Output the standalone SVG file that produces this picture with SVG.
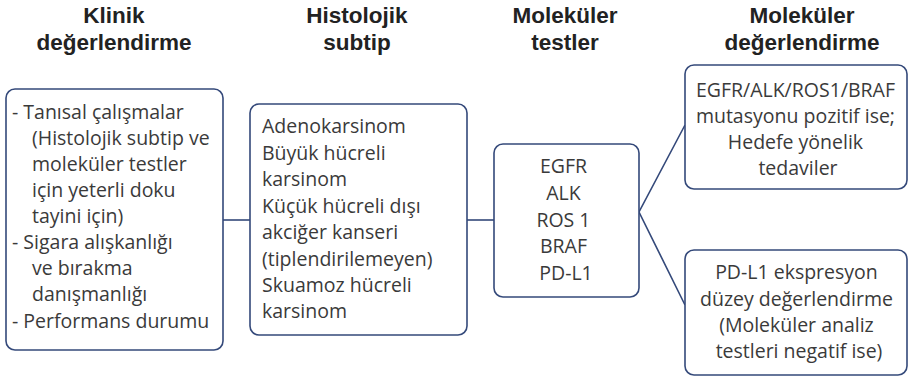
<svg xmlns="http://www.w3.org/2000/svg" width="909" height="378" viewBox="0 0 909 378">
  <style>
    .head { font-family: "Liberation Sans", Arial, sans-serif; font-weight: bold; font-size: 22.5px; fill: #222; text-anchor: middle; }
    .body { font-family: "Open Sans", "Noto Sans", sans-serif; font-size: 19.5px; fill: #3a3a3a; }
    .mid { text-anchor: middle; }
    .box { fill: #fff; stroke: #34497a; stroke-width: 1.6; }
    .link { fill: none; stroke: #34497a; stroke-width: 1.6; }
  </style>
  <rect width="909" height="378" fill="#fff"/>

  <!-- column headings -->
  <g id="headings">
    <text class="head" x="114" y="23">Klinik</text>
    <text class="head" x="114" y="50">değerlendirme</text>
    <text class="head" x="357" y="23">Histolojik</text>
    <text class="head" x="357" y="50">subtip</text>
    <text class="head" x="565" y="23">Moleküler</text>
    <text class="head" x="565" y="50">testler</text>
    <text class="head" x="802" y="23">Moleküler</text>
    <text class="head" x="802" y="50">değerlendirme</text>
  </g>

  <!-- connectors -->
  <g id="connectors">
    <line class="link" x1="223" y1="220" x2="250" y2="220"/>
    <line class="link" x1="467" y1="220" x2="494" y2="220"/>
    <polyline class="link" points="685,125 639,212 685,305"/>
  </g>

  <g id="klinik">
    <rect class="box" x="6" y="89" width="217" height="261" rx="9"/>
    <text class="body">
      <tspan x="12" y="119">- Tanısal çalışmalar</tspan>
      <tspan x="32" y="145">(Histolojik subtip ve</tspan>
      <tspan x="32" y="171">moleküler testler</tspan>
      <tspan x="32" y="197">için yeterli doku</tspan>
      <tspan x="32" y="223">tayini için)</tspan>
      <tspan x="12" y="249">- Sigara alışkanlığı</tspan>
      <tspan x="32" y="275">ve bırakma</tspan>
      <tspan x="32" y="301">danışmanlığı</tspan>
      <tspan x="12" y="328">- Performans durumu</tspan>
    </text>
  </g>

  <g id="histolojik">
    <rect class="box" x="250" y="104" width="217" height="231" rx="9"/>
    <text class="body">
      <tspan x="262" y="133">Adenokarsinom</tspan>
      <tspan x="262" y="159.5">Büyük hücreli</tspan>
      <tspan x="262" y="186">karsinom</tspan>
      <tspan x="262" y="212.5">Küçük hücreli dışı</tspan>
      <tspan x="262" y="239">akciğer kanseri</tspan>
      <tspan x="262" y="265.5">(tiplendirilemeyen)</tspan>
      <tspan x="262" y="292">Skuamoz hücreli</tspan>
      <tspan x="262" y="318">karsinom</tspan>
    </text>
  </g>

  <g id="testler">
    <rect class="box" x="494" y="144" width="145" height="153" rx="9"/>
    <text class="body mid">
      <tspan x="566" y="173">EGFR</tspan>
      <tspan x="566" y="200">ALK</tspan>
      <tspan x="566" y="226.5">ROS 1</tspan>
      <tspan x="566" y="253">BRAF</tspan>
      <tspan x="566" y="280">PD-L1</tspan>
    </text>
  </g>

  <g id="hedefe">
    <rect class="box" x="685" y="65" width="222" height="124" rx="9"/>
    <text class="body mid">
      <tspan x="798" y="97">EGFR/ALK/ROS1/BRAF</tspan>
      <tspan x="798" y="123">mutasyonu pozitif ise;</tspan>
      <tspan x="798" y="149">Hedefe yönelik</tspan>
      <tspan x="798" y="175">tedaviler</tspan>
    </text>
  </g>

  <g id="pdl1">
    <rect class="box" x="685" y="250" width="222" height="125" rx="9"/>
    <text class="body mid">
      <tspan x="799" y="279">PD-L1 ekspresyon</tspan>
      <tspan x="799" y="305.5">düzey değerlendirme</tspan>
      <tspan x="799" y="332">(Moleküler analiz</tspan>
      <tspan x="799" y="358">testleri negatif ise)</tspan>
    </text>
  </g>
</svg>
